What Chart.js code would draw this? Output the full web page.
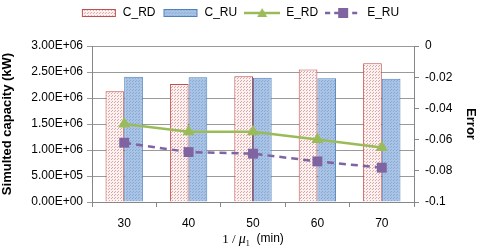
<!DOCTYPE html>
<html>
<head>
<meta charset="utf-8">
<script src="https://cdn.jsdelivr.net/npm/chart.js@4"></script>
<style>
  html, body { margin: 0; padding: 0; background: #fff; }
  #wrap { width: 484px; height: 251px; }
</style>
</head>
<body>
<div id="wrap"><canvas id="c" width="484" height="251"></canvas></div>
<script>
const categories = ['30', '40', '50', '60', '70']
const cRD = [2.13e6, 2.27e6, 2.42e6, 2.55e6, 2.67e6]
const cRU = [2.41e6, 2.40e6, 2.39e6, 2.38e6, 2.37e6]
const eRD = [-0.050, -0.055, -0.055, -0.060, -0.065]
const eRU = [-0.062, -0.068, -0.069, -0.074, -0.078]

const FONT = 'Liberation Sans'

function makePattern(base, dot) {
  let p = document.createElement('canvas')
  p.width = 3
  p.height = 3
  let ctx = p.getContext('2d')
  ctx.fillStyle = base
  ctx.fillRect(0, 0, 3, 3)
  ctx.fillStyle = dot
  ctx.fillRect(0, 0, 1, 1)
  ctx.fillRect(1, 2, 1, 1)
  return ctx.createPattern(p, 'repeat')
}

const rdFill = makePattern('#fbf1f1', '#dca5a5')
const ruFill = makePattern('#a9c3e4', '#86a9d6')

// legend symbols drawn as small images
function legendIcon(kind) {
  let cv = document.createElement('canvas')
  cv.width = 36
  cv.height = 12
  let ctx = cv.getContext('2d')
  if (kind == 'rd' || kind == 'ru') {
    ctx.fillStyle = kind == 'rd' ? rdFill : ruFill
    ctx.fillRect(1, 2, 34, 8)
    ctx.strokeStyle = kind == 'rd' ? '#c0504d' : '#4f81bd'
    ctx.lineWidth = 1
    ctx.strokeRect(1.5, 2.5, 33, 7)
  } else if (kind == 'erd') {
    ctx.strokeStyle = '#9bbb59'
    ctx.lineWidth = 2.5
    ctx.beginPath(); ctx.moveTo(0, 6); ctx.lineTo(36, 6); ctx.stroke()
    ctx.fillStyle = '#9bbb59'
    ctx.beginPath(); ctx.moveTo(18, 1); ctx.lineTo(23, 10); ctx.lineTo(13, 10); ctx.closePath(); ctx.fill()
  } else {
    ctx.strokeStyle = '#8064a2'
    ctx.lineWidth = 2.5
    ctx.setLineDash([5, 4])
    ctx.beginPath(); ctx.moveTo(0, 6); ctx.lineTo(36, 6); ctx.stroke()
    ctx.fillStyle = '#8064a2'
    ctx.fillRect(13, 1, 10, 10)
  }
  return cv
}
const icons = [legendIcon('rd'), legendIcon('ru'), legendIcon('erd'), legendIcon('eru')]

function sci(v) {
  if (v == 0) return '0.00E+00'
  let e = Math.floor(Math.log10(Math.abs(v)) + 1e-9)
  let m = v / Math.pow(10, e)
  return m.toFixed(2) + 'E+' + String(e).padStart(2, '0')
}

// extra room under the legend
const legendGap = {
  id: 'legendGap',
  beforeInit(chart) {
    const fit = chart.legend.fit
    chart.legend.fit = function () {
      fit.bind(chart.legend)()
      this.height += 17
    }
  }
}

// x axis title with mixed fonts: 1 / mu_1 (min)
const xTitle = {
  id: 'xTitle',
  afterDraw(chart) {
    let ctx = chart.ctx
    let area = chart.chartArea
    let cx = (area.left + area.right) / 2
    let y = 243
    ctx.save()
    ctx.fillStyle = '#000'
    ctx.textBaseline = 'alphabetic'
    let parts = [
      { t: '1 / ', f: '13px "Liberation Serif"', dy: 0 },
      { t: 'μ', f: 'italic 14px "Liberation Serif"', dy: 0 },
      { t: '1', f: '8px "Liberation Serif"', dy: 3 },
      { t: '  (min)', f: '12px ' + FONT, dy: -1 }
    ]
    let w = 0
    parts.forEach(p => { ctx.font = p.f; w += ctx.measureText(p.t).width })
    let x = cx - w / 2
    parts.forEach(p => {
      ctx.font = p.f
      ctx.fillText(p.t, x, y + p.dy)
      x += ctx.measureText(p.t).width
    })
    ctx.restore()
  }
}

Chart.defaults.font.family = FONT
Chart.defaults.font.size = 12
Chart.defaults.color = '#000'

new Chart(document.getElementById('c'), {
  type: 'bar',
  data: {
    labels: categories,
    datasets: [
      { label: 'C_RD', data: cRD, backgroundColor: rdFill, borderColor: '#c0504d', borderWidth: 1, yAxisID: 'y', order: 2 },
      { label: 'C_RU', data: cRU, backgroundColor: ruFill, borderColor: '#4f81bd', borderWidth: 1, yAxisID: 'y', order: 2 },
      { label: 'E_RD', type: 'line', data: eRD, borderColor: '#9bbb59', backgroundColor: '#9bbb59', borderWidth: 2.5,
        pointStyle: 'triangle', pointRadius: 7, pointBorderWidth: 0, yAxisID: 'y1', order: 1 },
      { label: 'E_RU', type: 'line', data: eRU, borderColor: '#8064a2', backgroundColor: '#8064a2', borderWidth: 2.5,
        borderDash: [7, 5], pointStyle: 'rect', pointRadius: 7, pointBorderWidth: 0, yAxisID: 'y1', order: 1 }
    ]
  },
  options: {
    responsive: false,
    animation: false,
    layout: { padding: { top: 0, left: 0, right: 4, bottom: 0 } },
    datasets: { bar: { categoryPercentage: 0.58, barPercentage: 1 } },
    plugins: {
      tooltip: { enabled: false },
      legend: {
        position: 'top',
        labels: {
          usePointStyle: true,
          pointStyleWidth: 36,
          boxHeight: 12,
          padding: 7,
          font: { size: 12 },
          sort: (a, b) => a.datasetIndex - b.datasetIndex,
          generateLabels(chart) {
            return chart.data.datasets.map((ds, i) => ({
              text: ds.label,
              pointStyle: icons[i],
              datasetIndex: i,
              fillStyle: 'transparent',
              strokeStyle: 'transparent',
              lineWidth: 0,
              hidden: false
            }))
          }
        }
      }
    },
    scales: {
      x: {
        offset: true,
        grid: { offset: true, drawOnChartArea: false, drawTicks: true, tickLength: 5, color: '#868686' },
        border: { color: '#868686' },
        ticks: { padding: 9, font: { size: 12 } },
        afterFit(s) { s.height = 49 }
      },
      y: {
        position: 'left',
        min: 0,
        max: 3e6,
        ticks: { stepSize: 5e5, callback: v => sci(v), padding: 4, font: { size: 12 } },
        grid: { color: '#9a9a9a', tickLength: 5 },
        border: { color: '#868686' },
        title: { display: true, text: 'Simulted capacity (kW)', font: { size: 13, weight: 'bold' }, padding: { top: 0, bottom: 2 } },
        afterFit(s) { s.width = 92 }
      },
      y1: {
        position: 'right',
        min: -0.1,
        max: 0,
        ticks: { stepSize: 0.02, callback: v => String(Number(v.toFixed(2))), padding: 6, font: { size: 12 } },
        grid: { drawOnChartArea: false, tickLength: 5, color: '#868686' },
        border: { color: '#868686' },
        title: { display: true, text: 'Error', font: { size: 13, weight: 'bold' }, padding: { top: 2, bottom: 0 } },
        afterFit(s) { s.width = 66 }
      }
    }
  },
  plugins: [legendGap, xTitle]
})
</script>
</body>
</html>
